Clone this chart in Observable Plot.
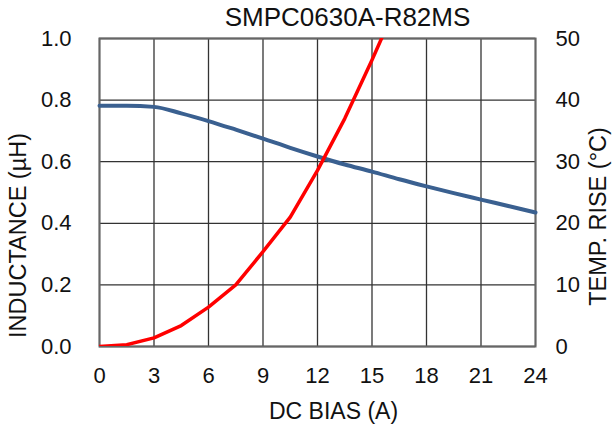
<!DOCTYPE html>
<html>
<head>
<meta charset="utf-8">
<script src="https://cdn.jsdelivr.net/npm/d3@7"></script>
<script src="https://cdn.jsdelivr.net/npm/@observablehq/plot@0.6"></script>
<style>
  html, body { margin: 0; padding: 0; background: #fff; }
  #chart svg { display: block; }
</style>
</head>
<body>
<div id="chart"></div>
<script>
const title = "SMPC0630A-R82MS";
const xLabel = "DC BIAS (A)";
const yLeftLabel = "INDUCTANCE (µH)";
const yRightLabel = "TEMP. RISE (°C)";

const xTicks = [0, 3, 6, 9, 12, 15, 18, 21, 24];
const yLeftTicks = [0, 0.2, 0.4, 0.6, 0.8, 1.0];
const yRightTicks = [0, 10, 20, 30, 40, 50];
const tempMax = 50;

// Inductance curve (µH) vs DC bias (A)
const indCurrent = [0, 1.5, 3, 4.5, 6, 7.5, 9, 10.5, 12, 13.5, 15, 16.5, 18, 19.5, 21, 22.5, 24];
const indValue   = [0.782, 0.782, 0.778, 0.757, 0.732, 0.704, 0.675, 0.645, 0.617, 0.591, 0.568, 0.543, 0.520, 0.498, 0.477, 0.456, 0.435];

// Temperature rise (°C) vs DC bias (A)
const tempCurrent = [0, 1.5, 3, 4.5, 6, 7.5, 9, 10.5, 12, 13.5, 15, 15.6];
const tempValue   = [0, 0.3, 1.4, 3.4, 6.4, 10.0, 15.4, 21.0, 28.6, 37.0, 46.5, 50.5];

const indData = indCurrent.map((x, i) => ({x, y: indValue[i]}));
const tempData = tempCurrent.map((x, i) => ({x, t: tempValue[i]}));

const font = "'Liberation Sans', Arial, sans-serif";

const chart = Plot.plot({
  width: 613,
  height: 427,
  marginLeft: 99,
  marginRight: 78,
  marginTop: 38,
  marginBottom: 81,
  style: {fontFamily: font, fontSize: "22px", color: "#111", background: "#fff"},
  x: {domain: [0, 24], ticks: xTicks},
  y: {domain: [0, 1], ticks: yLeftTicks},
  marks: [
    Plot.gridX(xTicks, {stroke: "#333", strokeOpacity: 1, strokeWidth: 1.3}),
    Plot.gridY(yLeftTicks, {stroke: "#333", strokeOpacity: 1, strokeWidth: 1.3}),
    Plot.frame({stroke: "#666", strokeWidth: 2}),
    Plot.axisX(xTicks, {tickSize: 0, tickPadding: 21, label: null, fontSize: 22, tickFormat: d => String(d)}),
    Plot.axisY(yLeftTicks, {anchor: "left", tickSize: 0, tickPadding: 28, label: null, fontSize: 22, tickFormat: d => d.toFixed(1)}),
    Plot.axisY(yRightTicks.map(t => t / tempMax), {anchor: "right", tickSize: 0, tickPadding: 20, label: null, fontSize: 22,
      tickFormat: (d, i) => String(yRightTicks[i])}),
    Plot.line(indData, {x: "x", y: "y", stroke: "#3a6090", strokeWidth: 4, curve: "monotone-x"}),
    Plot.line(tempData, {x: "x", y: d => d.t / tempMax, stroke: "#ff0000", strokeWidth: 3.5, clip: true}),
    Plot.text([title], {frameAnchor: "top", textAnchor: "middle", lineAnchor: "middle", dx: 30, dy: -21, fontSize: 26, fill: "#111"}),
    Plot.text([xLabel], {frameAnchor: "bottom", textAnchor: "middle", lineAnchor: "middle", dx: 16, dy: 65, fontSize: 23, fill: "#111"}),
    Plot.text([yLeftLabel], {frameAnchor: "left", textAnchor: "middle", lineAnchor: "middle", rotate: -90, dx: -81, dy: 43, fontSize: 23.5, fill: "#111"}),
    Plot.text([yRightLabel], {frameAnchor: "right", textAnchor: "middle", lineAnchor: "middle", rotate: -90, dx: 63, dy: 24, fontSize: 23.5, fill: "#111"})
  ]
});
document.getElementById("chart").appendChild(chart);
</script>
</body>
</html>
